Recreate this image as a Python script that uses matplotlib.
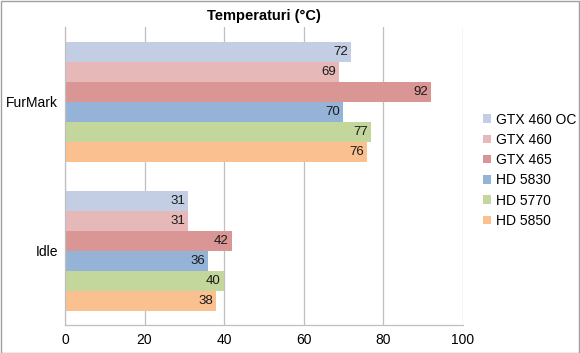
import matplotlib.pyplot as plt
import numpy as np

categories = ["FurMark", "Idle"]
series = ["GTX 460 OC", "GTX 460", "GTX 465", "HD 5830", "HD 5770", "HD 5850"]
values = {
    "GTX 460 OC": [72, 31],
    "GTX 460": [69, 31],
    "GTX 465": [92, 42],
    "HD 5830": [70, 36],
    "HD 5770": [77, 40],
    "HD 5850": [76, 38],
}
colors = ["#C3CDE3", "#E6B9B8", "#D99694", "#95B3D7", "#C3D69B", "#FAC090"]
xticks = [0, 20, 40, 60, 80, 100]

plt.rcParams['font.family'] = ['Liberation Sans', 'DejaVu Sans']

fig = plt.figure(figsize=(5.8, 3.53), dpi=100)
ax = fig.add_axes([0.112, 0.079, 0.686, 0.844])

y = np.arange(len(categories))
h = 0.134
for i, (name, c) in enumerate(zip(series, colors)):
    pos = y + (i - 2.5) * h
    bars = ax.barh(pos, values[name], height=h, color=c, label=name, zorder=2)
    for b, v in zip(bars, values[name]):
        ax.text(v - 0.8, b.get_y() + h / 2, str(v), ha="right", va="center",
                fontsize=9.5, color="#1a1a1a", zorder=3)

ax.set_ylim(1.5, -0.5)
ax.set_xlim(0, 100)
ax.set_xticks(xticks)
ax.set_yticks(y)
ax.set_yticklabels(categories, fontsize=10)
ax.tick_params(axis="x", labelsize=10, length=0, pad=6)
ax.tick_params(axis="y", length=0, pad=5)
ax.grid(axis="x", color="#BFBFBF", linewidth=0.9, zorder=0)
for s in ["top", "right"]:
    ax.spines[s].set_visible(False)
for s in ["left", "bottom"]:
    ax.spines[s].set_color("#BFBFBF")
    ax.spines[s].set_linewidth(0.9)

fig.text(0.455, 0.955, "Temperaturi (°C)", ha="center", va="center",
         fontsize=10.5, fontweight="bold")

ax.legend(loc="center left", bbox_to_anchor=(1.02, 0.52), frameon=False,
          fontsize=10, handlelength=0.55, handleheight=0.55, handletextpad=0.4,
          labelspacing=0.45)

fig.patches.append(plt.Rectangle((0.001, 0.001), 0.998, 0.997, transform=fig.transFigure,
                                 fill=False, edgecolor="#A0A0A0", linewidth=1))

fig.savefig("out.png", dpi=100)
